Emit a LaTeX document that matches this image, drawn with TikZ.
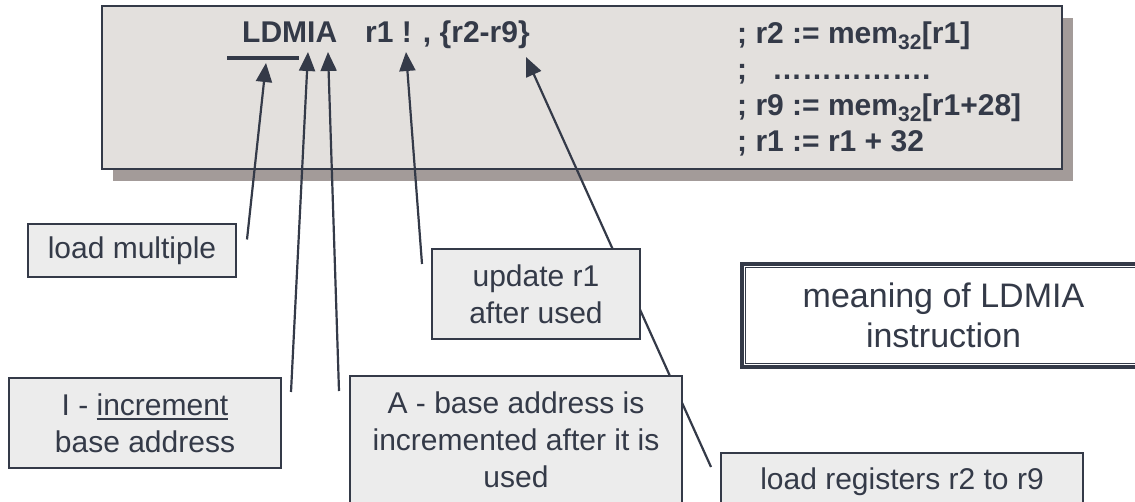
\documentclass[tikz,border=0pt]{standalone}
\usepackage{fontspec}
\setmainfont{Liberation Sans}
\usetikzlibrary{arrows.meta}

\definecolor{ink}{RGB}{52,58,72}
\definecolor{panel}{RGB}{227,224,221}
\definecolor{panelshadow}{RGB}{163,155,153}
\definecolor{lblfill}{RGB}{236,236,236}

% thick underline for one word
\newcommand\ulword[1]{\setbox0\hbox{#1}\rlap{\rule[-4.5pt]{\wd0}{1.8pt}}\box0}

\pgfdeclarelayer{back}
\pgfdeclarelayer{front}
\pgfsetlayers{back,main,front}

\tikzset{
  lbl/.style={draw=ink, fill=lblfill, line width=2pt, text=ink, align=center,
    inner sep=0pt, font=\fontsize{30}{37}\selectfont},
  code/.style={text=ink, inner sep=0pt, font=\fontsize{30}{36.3}\selectfont\bfseries},
  ptr/.style={draw=ink, line width=2.2pt, -{Triangle[width=16pt,length=19pt]}},
}

\begin{document}
\begin{tikzpicture}[x=1pt,y=-1pt]
\clip (0,0) rectangle (1135,502);

% instruction panel with its shadow
\begin{pgfonlayer}{back}
\fill[white] (0,0) rectangle (1135,502);
\fill[panelshadow] (113,18) rectangle (1073,181);
\draw[ink, fill=panel, line width=2pt] (102,6) rectangle (1062,169);
\end{pgfonlayer}

\node[code, anchor=base west] (op) at (242,43) {LDMIA};
\node[code, anchor=base west] (args) at (365,43) {r1 ! , \{r2-r9\}};
% base of a multi-line node is its last line
\node[code, anchor=base west, align=left] (notes) at (737,152)
  {; r2 := mem\textsubscript{32}[r1]\\;\ \ \ …………….\\; r9 := mem\textsubscript{32}[r1+28]\\; r1 := r1 + 32};
\draw[ink, line width=4.5pt] (227,58) -- (299,58);

% explanation boxes
\begin{pgfonlayer}{front}
\node[lbl, minimum width=208, minimum height=53] (mult) at (132,250.5) {load multiple};
\node[lbl, minimum width=272, minimum height=90] (incr) at (145,423) {I - \ulword{increment}\\base address};
\node[lbl, minimum width=332, minimum height=128] (after) at (516,440) {A - base address is\\incremented after it is\\used};
\node[lbl, minimum width=208, minimum height=90] (upd) at (536,294) {update r1\\after used};
\node[lbl, minimum width=362, minimum height=58] (regs) at (902,482) {load registers r2 to r9};
\node[lbl, fill=white, line width=4.5pt, minimum width=403, minimum height=103,
  font=\fontsize{34}{40}\selectfont] (mean) at (943.5,315.75) {meaning of LDMIA\\instruction};
\draw[ink, line width=1pt] ([shift={(6,6)}]mean.north west) rectangle ([shift={(-6,-6)}]mean.south east);
\end{pgfonlayer}

% pointers up to the instruction
\coordinate (tipLdm) at (266,63);
\coordinate (tipI) at (308,52);
\coordinate (tipA) at (328,52);
\coordinate (tipBang) at (406,52);
\coordinate (tipRegs) at (526,57);
\draw[ptr] ([shift={(10,-11)}]mult.east) -- (tipLdm);
\draw[ptr] ([shift={(9,15)}]incr.north east) -- (tipI);
\draw[ptr] ([shift={(-10,16)}]after.north west) -- (tipA);
\draw[ptr] ([shift={(-9,16)}]upd.north west) -- (tipBang);
\draw[ptr] ([shift={(-9,15)}]regs.north west) -- (tipRegs);
\end{tikzpicture}
\end{document}
